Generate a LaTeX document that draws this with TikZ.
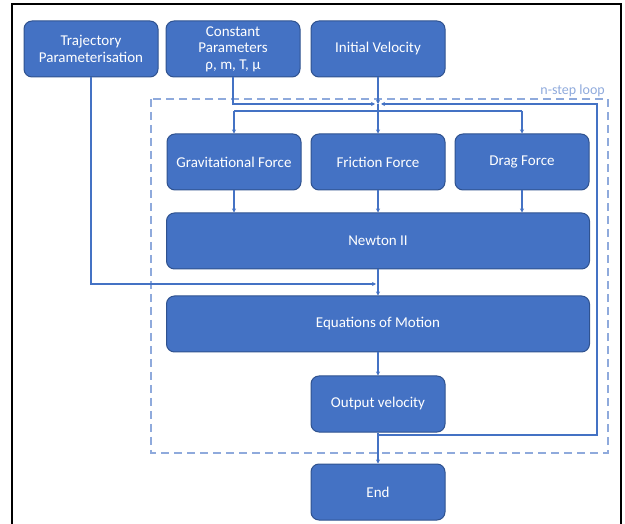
\documentclass[tikz,border=0pt]{standalone}
\usepackage{fontspec}
\setmainfont{Carlito}
\usetikzlibrary{arrows.meta}
\definecolor{boxfill}{HTML}{4472C4}
\definecolor{boxedge}{HTML}{2F528F}
\definecolor{linkc}{HTML}{4472C4}
\definecolor{loopc}{HTML}{8FAADC}
\begin{document}
\begin{tikzpicture}[x=1pt,y=-1pt,
  block/.style={draw=boxedge, fill=boxfill, rounded corners=8pt, text=white,
    minimum width=134pt, minimum height=56pt, align=center, inner sep=2pt,
    line width=1pt, font=\fontsize{15}{16.5}\selectfont},
  wide/.style={block, minimum width=423pt},
  link/.style={draw=linkc, line width=1.2pt},
  tip/.style={-{Stealth[length=4pt,width=4pt]}}]
\useasboundingbox (0,0) rectangle (625,524);
\draw[line width=2pt] (12,4) rectangle (621,560);
% loop frame
\draw[loopc, line width=1.5pt, dash pattern=on 8pt off 5pt] (151,99) rectangle (608,453);
\node[anchor=base east, inner sep=0pt, text=loopc, font=\fontsize{14}{16}\selectfont] (lbl) at (605,95) {n-step loop};
% nodes
\node[block] (traj) at (91,49) {Trajectory\\Parameterisation};
\node[block] (const) at (233,49) {Constant\\Parameters\\ρ, m, T, μ};
\node[block] (init) at (378,49) {Initial Velocity};
\node[block] (grav) at (234,162) {Gravitational Force};
\node[block] (fric) at (378,162) {Friction Force};
\node[block] (drag) at (522,162) {Drag Force};
\node[wide] (newton) at (378,241) {Newton II};
\node[wide] (eom) at (378,324) {Equations of Motion};
\node[block] (out) at (378,404) {Output velocity};
\node[block] (end) at (378,492) {End};
% junction coordinates
\coordinate (jc) at (378,104);
\coordinate (jcl) at (375,104);
\coordinate (jcr) at (381,104);
\coordinate (fj) at (378,111);
\coordinate (gj) at (234,111);
\coordinate (dj) at (522,111);
\coordinate (tj) at (376,284);
\coordinate (ob) at (378,435);
\coordinate (rb) at (597,435);
\coordinate (rt) at (597,104);
% connectors
\draw[link,tip] (init.south) -- (jc);
\draw[link] (jc) -- (fj);
\draw[link] (gj) -- (dj);
\draw[link,tip] (gj) -- (grav.north);
\draw[link,tip] (fj) -- (fric.north);
\draw[link,tip] (dj) -- (drag.north);
\draw[link,tip] (const.south) |- (jcl);
\draw[link,tip] (ob) -- (rb) -- (rt) -- (jcr);
\draw[link,tip] (grav.south) -- (grav.south |- newton.north);
\draw[link,tip] (fric.south) -- (fric.south |- newton.north);
\draw[link,tip] (drag.south) -- (drag.south |- newton.north);
\draw[link,tip] (traj.south) |- (tj);
\draw[link,tip] (newton.south) -- (eom.north);
\draw[link,tip] (eom.south) -- (out.north);
\draw[link,tip] (out.south) -- (end.north);
\end{tikzpicture}
\end{document}
